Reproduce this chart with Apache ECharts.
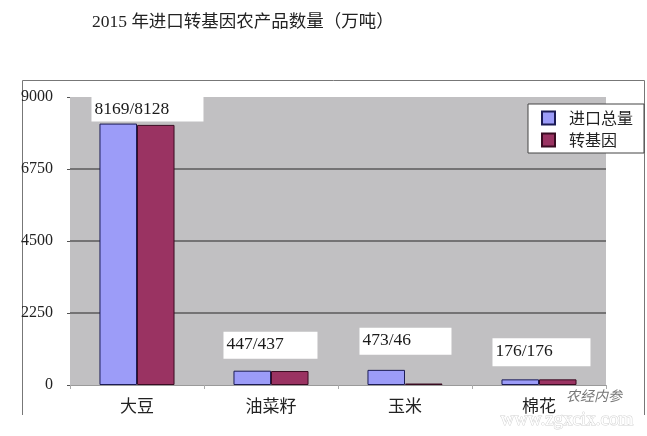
<!DOCTYPE html>
<html>
<head>
<meta charset="utf-8">
<script src="https://cdn.jsdelivr.net/npm/echarts@6/dist/echarts.min.js"></script>
<style>
  html, body { margin: 0; padding: 0; background: #ffffff; }
  #chart { width: 647px; height: 436px; }
</style>
</head>
<body>
<div id="chart"></div>
<script>
// 2015 import volume of GM farm products (10k tonnes)
const categories = ['大豆', '油菜籽', '玉米', '棉花'];
const importTotal = [8169, 447, 473, 176];
const gmVolume = [8128, 437, 46, 176];
const yTicks = [0, 2250, 4500, 6750, 9000];
const seriesNames = ['进口总量', '转基因'];

// value boxes sit above each category, offset from the left bar's top-left corner
const boxLayout = [
  { pos: [-8, -27], width: 106, height: 25 },
  { pos: [-10, -39], width: 88, height: 27 },
  { pos: [-8, -42], width: 86, height: 27 },
  { pos: [-9, -41], width: 92, height: 28 }
];

const serifFont = '"Liberation Serif", "DejaVu Serif", serif';
const cjkFont = '"Noto Sans CJK SC", "Noto Sans", sans-serif';

const chart = echarts.init(document.getElementById('chart'), null, { renderer: 'canvas' });

const totalData = importTotal.map((v, i) => ({
  value: v,
  label: {
    show: true,
    position: boxLayout[i].pos,
    width: boxLayout[i].width,
    height: boxLayout[i].height,
    formatter: importTotal[i] + '/' + gmVolume[i]
  }
}));

chart.setOption({
  backgroundColor: '#ffffff',
  animation: false,
  title: {
    text: '2015 年进口转基因农产品数量（万吨）',
    left: 87,
    top: 9,
    textStyle: {
      fontFamily: serifFont + ', "Noto Sans CJK SC"',
      fontSize: 17.5,
      fontWeight: 'normal',
      color: '#222'
    }
  },
  legend: {
    data: seriesNames,
    orient: 'vertical',
    left: 528,
    top: 104,
    width: 115,
    backgroundColor: '#ffffff',
    borderColor: '#444',
    borderWidth: 1,
    borderRadius: 0,
    padding: [6, 11, 5, 13],
    itemWidth: 13,
    itemHeight: 13,
    itemGap: 6,
    icon: 'rect',
    textStyle: {
      fontFamily: cjkFont,
      fontSize: 16,
      color: '#222',
      padding: [0, 0, 0, 9]
    }
  },
  grid: {
    left: 70,
    right: 41,
    top: 97,
    bottom: 51,
    show: true,
    backgroundColor: '#c1c0c2',
    borderWidth: 0,
    containLabel: false
  },
  xAxis: {
    type: 'category',
    data: categories,
    axisLine: { show: true, lineStyle: { color: '#9a9a9a', width: 1 } },
    axisTick: { show: true, length: 4, lineStyle: { color: '#aaa' } },
    axisLabel: {
      margin: 12,
      fontFamily: cjkFont,
      fontSize: 17,
      color: '#222'
    },
    splitLine: { show: false }
  },
  yAxis: {
    type: 'value',
    min: yTicks[0],
    max: yTicks[yTicks.length - 1],
    interval: yTicks[1] - yTicks[0],
    axisLine: { show: false },
    axisTick: { show: true, length: 3, lineStyle: { color: '#555' } },
    axisLabel: {
      margin: 17,
      formatter: (v) => String(v),
      fontFamily: serifFont,
      fontSize: 16,
      color: '#222'
    },
    splitLine: {
      show: true,
      lineStyle: {
        color: ['rgba(0,0,0,0)', '#5a5a5a', '#5a5a5a', '#5a5a5a', 'rgba(0,0,0,0)'],
        width: 1.6
      }
    }
  },
  series: [
    {
      name: seriesNames[0],
      type: 'bar',
      data: totalData,
      barGap: '0%',
      barCategoryGap: '44%',
      itemStyle: { color: '#9c9cf8', borderColor: '#1c1c55', borderWidth: 1 },
      label: {
        show: true,
        backgroundColor: '#ffffff',
        padding: [0, 3, 0, 3],
        align: 'left',
        verticalAlign: 'top',
        lineHeight: 26,
        fontFamily: serifFont,
        fontSize: 17.5,
        color: '#1a1a1a'
      },
      z: 2
    },
    {
      name: seriesNames[1],
      type: 'bar',
      data: gmVolume,
      barGap: '0%',
      barCategoryGap: '44%',
      itemStyle: { color: '#9a3362', borderColor: '#3a0c22', borderWidth: 1 },
      z: 1
    }
  ],
  graphic: [
    {
      type: 'polyline',
      shape: { points: [[22.5, 415], [22.5, 80.5], [644.5, 80.5], [644.5, 415]] },
      style: { stroke: '#777', lineWidth: 1, fill: null },
      silent: true,
      z: 0
    },
    {
      type: 'text',
      left: 500,
      top: 410,
      style: {
        text: 'www.zgxcix.com',
        font: '19px ' + serifFont,
        fill: '#ffffff',
        stroke: '#d2d2d2',
        lineWidth: 1
      },
      silent: true,
      z: 10
    },
    {
      type: 'text',
      left: 566,
      top: 389,
      style: {
        text: '农经内参',
        font: 'italic 14px ' + cjkFont,
        fill: '#777'
      },
      silent: true,
      z: 10
    }
  ]
});
</script>
</body>
</html>
